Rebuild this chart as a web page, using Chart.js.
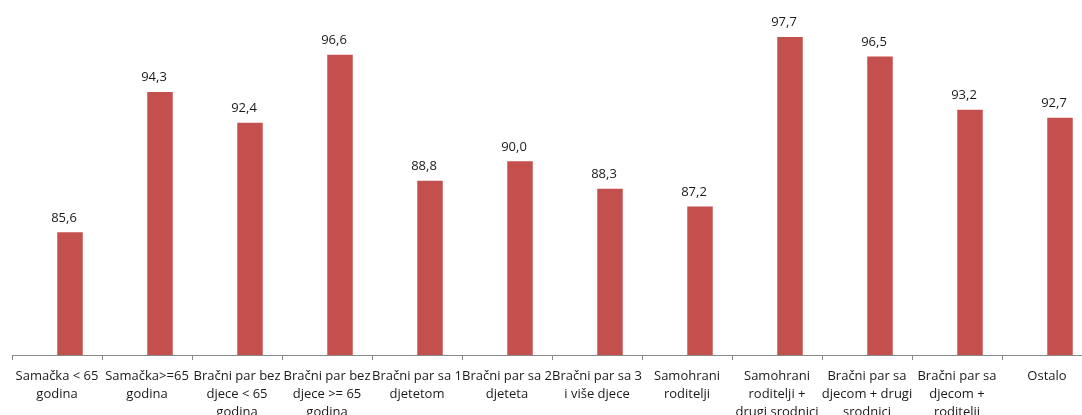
<!DOCTYPE html>
<html>
<head>
<meta charset="utf-8">
<script src="https://cdn.jsdelivr.net/npm/chart.js@4/dist/chart.umd.min.js"></script>
<style>
    html, body { margin: 0; padding: 0; background: #fff; overflow: hidden; }
    #wrap { width: 1100px; height: 440px; }
</style>
</head>
<body>
<div id="wrap"><canvas id="chart" width="1100" height="440"></canvas></div>
<script>
// Chart data
const categories = [
    ['Samačka < 65', 'godina'],
    ['Samačka>=65', 'godina'],
    ['Bračni par bez', 'djece < 65', 'godina'],
    ['Bračni par bez', 'djece >= 65', 'godina'],
    ['Bračni par sa 1', 'djetetom'],
    ['Bračni par sa 2', 'djeteta'],
    ['Bračni par sa 3', 'i više djece'],
    ['Samohrani', 'roditelji'],
    ['Samohrani', 'roditelji +', 'drugi srodnici'],
    ['Bračni par sa', 'djecom + drugi', 'srodnici'],
    ['Bračni par sa', 'djecom +', 'roditelji'],
    ['Ostalo']
];
const values = [85.6, 94.3, 92.4, 96.6, 88.8, 90.0, 88.3, 87.2, 97.7, 96.5, 93.2, 92.7];
const emptySeries = values.map(() => null);

const yMin = 78;
const yMax = 100;

const FONT = '"Open Sans", "DejaVu Sans", sans-serif';

// Draw the value above each bar, with a decimal comma
const valueLabels = {
    id: 'valueLabels',
    afterDatasetsDraw(chart) {
        const ctx = chart.ctx;
        const meta = chart.getDatasetMeta(1);
        ctx.save();
        ctx.font = '13px ' + FONT;
        ctx.fillStyle = '#1a1a1a';
        ctx.textAlign = 'center';
        ctx.textBaseline = 'bottom';
        meta.data.forEach((bar, i) => {
            ctx.fillText(values[i].toFixed(1).replace('.', ','), bar.x - 6, bar.y - 8);
        });
        ctx.restore();
    }
};

new Chart(document.getElementById('chart'), {
    type: 'bar',
    data: {
        labels: categories,
        datasets: [
            { data: emptySeries, backgroundColor: 'transparent' },
            { data: values, backgroundColor: '#c4504e', borderWidth: 0 }
        ]
    },
    options: {
        responsive: false,
        animation: false,
        datasets: {
            bar: { categoryPercentage: 0.578, barPercentage: 0.98 }
        },
        layout: { padding: { left: 12, right: 8, top: 0, bottom: 0 } },
        plugins: {
            legend: { display: false },
            tooltip: { enabled: false }
        },
        scales: {
            x: {
                offset: true,
                grid: {
                    offset: true,
                    drawOnChartArea: false,
                    drawTicks: true,
                    tickLength: 5,
                    color: '#888'
                },
                border: { color: '#888', width: 1 },
                ticks: {
                    autoSkip: false,
                    maxRotation: 0,
                    minRotation: 0,
                    padding: 7,
                    color: '#1a1a1a',
                    font: { family: FONT, size: 13, lineHeight: 1.4 }
                },
                afterFit(scale) { scale.height = 85; }
            },
            y: {
                display: false,
                min: yMin,
                max: yMax
            }
        }
    },
    plugins: [valueLabels]
});
</script>
</body>
</html>
